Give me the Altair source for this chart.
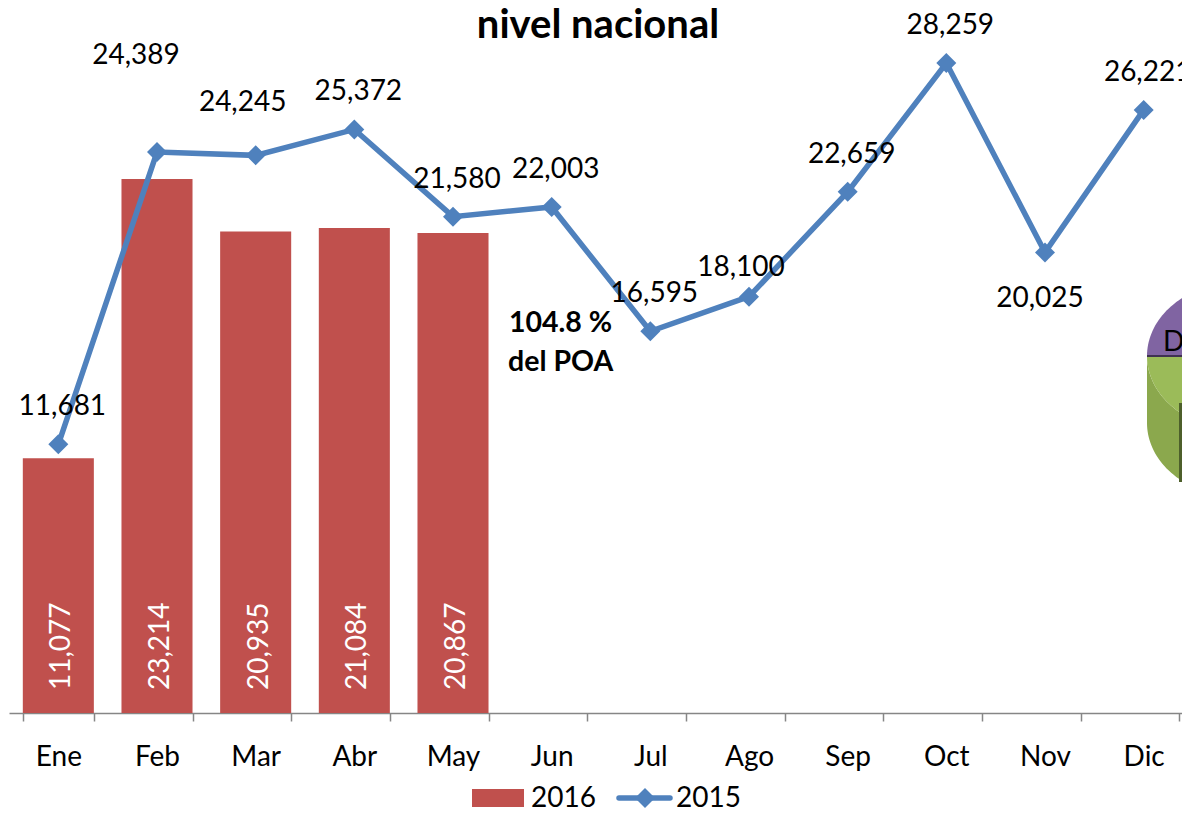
import altair as alt
import pandas as pd
import numpy as np

# ---------------- data ----------------
meses = ["Ene", "Feb", "Mar", "Abr", "May", "Jun", "Jul", "Ago", "Sep", "Oct", "Nov", "Dic"]
valores_2016 = [11077, 23214, 20935, 21084, 20867]
valores_2015 = [11681, 24389, 24245, 25372, 21580, 22003, 16595, 18100, 22659, 28259, 20025, 26221]
serie_barras = "2016"
serie_linea = "2015"
titulo = "nivel nacional"
nota = ["104.8 %", "del POA"]
texto_pie = "De"

df15 = pd.DataFrame({"mes": meses, "valor": valores_2015,
                     "etiqueta": [f"{v:,}" for v in valores_2015]})
df16 = pd.DataFrame({"mes": meses[:len(valores_2016)], "valor": valores_2016,
                     "etiqueta": [f"{v:,}" for v in valores_2016]})
one = pd.DataFrame({"k": [0]})

FONT = "Lato"
RED = "#C0504D"
BLUE = "#4F81BD"
GRAY = "#868686"
FS = 28

x = alt.X("mes:N", sort=meses,
          scale=alt.Scale(domain=meses, range=[0, 1184], paddingInner=0.28, paddingOuter=0.14),
          axis=alt.Axis(title=None, labelAngle=0, labelFont=FONT, labelFontSize=FS,
                        labelColor="black", labelBaseline="alphabetic", labelPadding=44,
                        tickSize=8, tickColor=GRAY, domainColor=GRAY, tickWidth=1.5,
                        domainWidth=1.5, tickBand="extent", grid=False))
yscale = alt.Scale(domain=[0, 30000], nice=False, zero=True)
y = alt.Y("valor:Q", scale=yscale, axis=None)

bars = alt.Chart(df16).mark_bar(color=RED).encode(x=x, y=y)
bar_labels = alt.Chart(df16).transform_calculate(base="0").mark_text(
    angle=270, align="left", baseline="alphabetic", dx=23, dy=12,
    color="white", font=FONT, fontSize=FS
).encode(x=x, y=alt.Y("base:Q", scale=yscale, axis=None), text="etiqueta:N")

line = alt.Chart(df15).mark_line(color=BLUE, strokeWidth=5.5).encode(x=x, y=y)
points = alt.Chart(df15).mark_point(shape="diamond", filled=True, size=400,
                                    color=BLUE, opacity=1).encode(x=x, y=y)

especiales = {"Feb": (-21, -88), "Mar": (-13, -44), "Ago": (-8, -21), "Nov": (-5, 55)}
lbl_layers = [
    alt.Chart(df15).transform_filter(
        alt.FieldOneOfPredicate(field="mes", oneOf=[m for m in meses if m not in especiales])
    ).mark_text(align="center", baseline="alphabetic", dx=4, dy=-29,
                font=FONT, fontSize=FS, color="black").encode(x=x, y=y, text="etiqueta:N")
]
for m, (ddx, ddy) in especiales.items():
    lbl_layers.append(
        alt.Chart(df15).transform_filter(alt.FieldEqualPredicate(field="mes", equal=m))
        .mark_text(align="center", baseline="alphabetic", dx=ddx, dy=ddy,
                   font=FONT, fontSize=FS, color="black").encode(x=x, y=y, text="etiqueta:N")
    )

OX, OY = 9, 23            # plot origin on the page

# title and annotation
title = alt.Chart(one).mark_text(text=titulo, font=FONT, fontSize=40, fontWeight="bold",
                                 align="center", baseline="alphabetic", color="black"
                                 ).encode(x=alt.value(598 - OX), y=alt.value(38 - OY))
nota1 = alt.Chart(one).mark_text(text=nota[0], font=FONT, fontSize=28.5, fontWeight="bold",
                                 align="left", baseline="alphabetic", color="black"
                                 ).encode(x=alt.value(509 - OX), y=alt.value(332 - OY))
nota2 = alt.Chart(one).mark_text(text=nota[1], font=FONT, fontSize=28.5, fontWeight="bold",
                                 align="left", baseline="alphabetic", color="black"
                                 ).encode(x=alt.value(508 - OX), y=alt.value(371 - OY))

# legend (manual)
LB = 807  # legend text baseline on the page
leg_rect = alt.Chart(one).mark_rect(color=RED).encode(
    x=alt.value(472 - OX), x2=alt.value(524 - OX), y=alt.value(LB - 18 - OY), y2=alt.value(LB - OY))
leg_t1 = alt.Chart(one).mark_text(text=serie_barras, font=FONT, fontSize=FS, align="left",
                                  baseline="alphabetic", color="black"
                                  ).encode(x=alt.value(531 - OX), y=alt.value(LB - OY))
leg_line = alt.Chart(one).mark_rule(color=BLUE, strokeWidth=5.5, strokeCap="round").encode(
    x=alt.value(619 - OX), x2=alt.value(670 - OX), y=alt.value(LB - 9 - OY))
leg_pt = alt.Chart(one).mark_point(shape="diamond", filled=True, size=400, color=BLUE,
                                   opacity=1).encode(x=alt.value(645 - OX), y=alt.value(LB - 9 - OY))
leg_t2 = alt.Chart(one).mark_text(text=serie_linea, font=FONT, fontSize=FS, align="left",
                                  baseline="alphabetic", color="black"
                                  ).encode(x=alt.value(676 - OX), y=alt.value(LB - OY))

# partial pie fragment at the right edge (decoration), page coords -> plot coords
AX, AY = 1190, 390        # anchor of the custom shapes (page)
S = 100.0                 # px per shape unit
CX, CY, RX, RY, D = 1240, 356, 93, 74, 67


def rel(px, py):
    return f"{(px - AX) / S:.4f},{(py - AY) / S:.4f}"


def ell(t, dy=0):
    return CX + RX * np.cos(t), CY + dy + RY * np.sin(t)


t_top = np.pi + np.arccos(40 / RX)
t_bot = np.pi - np.arccos(40 / RX)
ts_up = np.linspace(t_top, np.pi, 30)
ts_dn = np.linspace(np.pi, t_bot, 30)

purple = "M" + " L".join(rel(*ell(t)) for t in ts_up) + " L" + rel(1200, CY) + " Z"
top_face = "M" + " L".join(rel(*ell(t)) for t in ts_dn) + " L" + rel(1200, CY) + " Z"
side = ("M" + " L".join(rel(*ell(t, D)) for t in ts_dn) + " L" +
        " L".join(rel(*ell(t)) for t in ts_dn[::-1]) + " Z")


def shape_layer(path, color):
    return alt.Chart(one).mark_point(shape=path, filled=True, size=40000, color=color,
                                     opacity=1, strokeWidth=0).encode(
        x=alt.value(AX - OX), y=alt.value(AY - OY))


pie = [
    shape_layer(side, "#8BA84D"),
    shape_layer(top_face, "#9BBB59"),
    shape_layer(purple, "#8064A2"),
    alt.Chart(one).mark_rect(color="#4D5F2B").encode(
        x=alt.value(1179 - OX), x2=alt.value(1200 - OX), y=alt.value(403 - OY), y2=alt.value(482 - OY)),
    alt.Chart(one).mark_rule(color=RED, strokeWidth=2).encode(
        x=alt.value(1188 - OX), y=alt.value(404 - OY), y2=alt.value(482 - OY)),
    alt.Chart(one).mark_rule(color="#3F3151", strokeWidth=2).encode(
        x=alt.value(1147 - OX), x2=alt.value(1200 - OX), y=alt.value(CY - OY)),
    alt.Chart(one).mark_text(text=texto_pie, font=FONT, fontSize=FS, align="left",
                             baseline="alphabetic", color="black").encode(
        x=alt.value(1163 - OX), y=alt.value(351 - OY)),
]

chart = alt.layer(
    bars, bar_labels, line, points, *lbl_layers, title, nota1, nota2,
    leg_rect, leg_t1, leg_line, leg_pt, leg_t2, *pie
).properties(
    width=1173, height=690,
    autosize=alt.AutoSizeParams(type="none"),
    padding={"left": 1, "top": 15, "right": 0, "bottom": 100},
    background="white",
).configure_view(stroke=None)

chart.save("out.html", embed_options={"renderer": "svg", "actions": False})
